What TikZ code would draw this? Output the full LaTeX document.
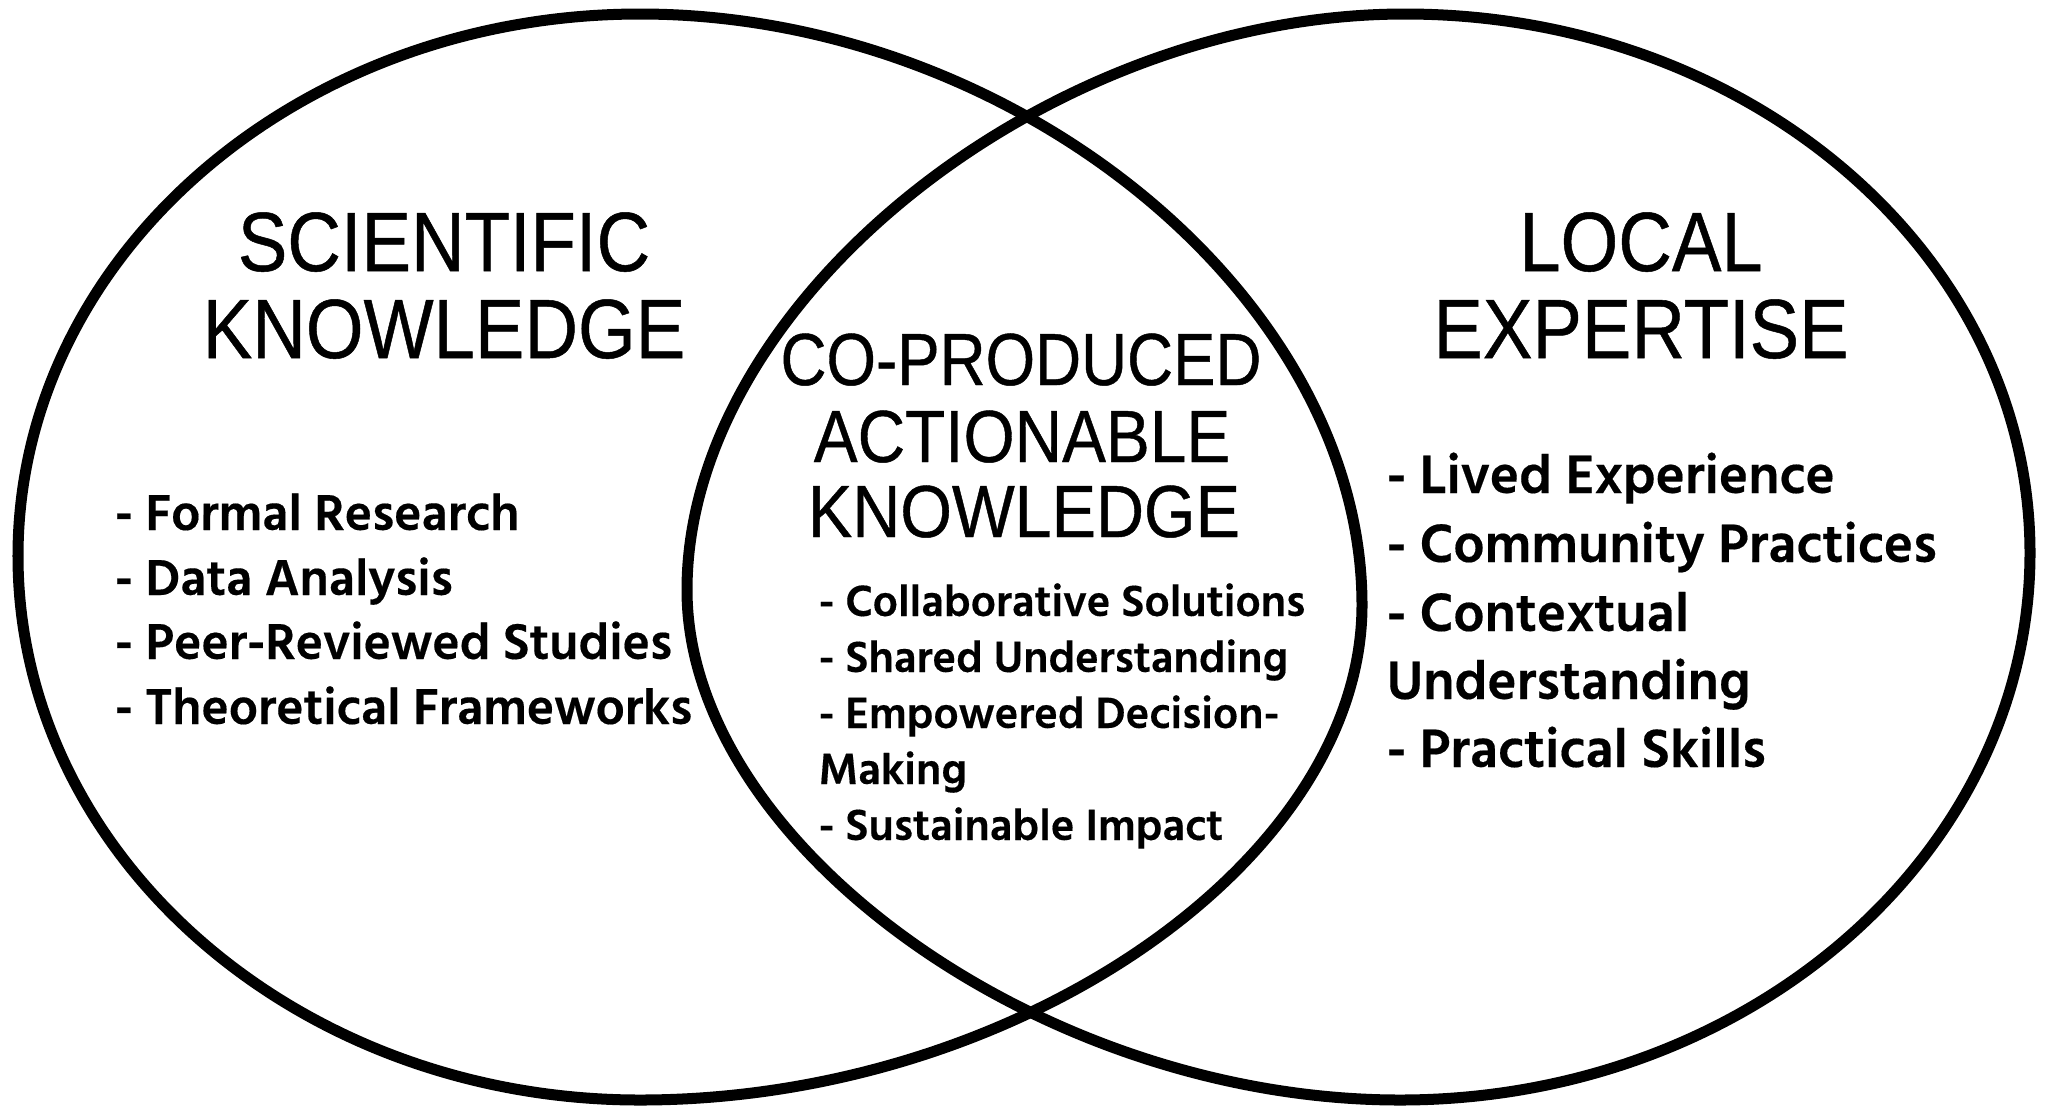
\documentclass[tikz,border=0pt]{standalone}
\usepackage{fontspec}
\usepackage{graphicx}
\newfontfamily\headfont[FakeBold=0.6]{Liberation Sans}
\newfontfamily\listfont[BoldFeatures={FakeBold=0.3}]{Hind Siliguri}
\newcommand\hx[2]{\scalebox{#1}[1]{#2}}
\begin{document}
\begin{tikzpicture}[x=0.01cm,y=-0.01cm,
  ring/.style={draw=black,line width=0.11cm},
  head/.style={font=\headfont\fontsize{23.9}{28}\selectfont,anchor=base,inner sep=0pt},
  mid/.style={font=\headfont\fontsize{21}{25}\selectfont,anchor=base,inner sep=0pt},
  litem/.style={font=\listfont\bfseries\fontsize{14.7}{17}\selectfont,anchor=base west,inner sep=0pt},
  citem/.style={font=\listfont\bfseries\fontsize{12.75}{15}\selectfont,anchor=base west,inner sep=0pt},
  ritem/.style={font=\listfont\bfseries\fontsize{15.75}{18}\selectfont,anchor=base west,inner sep=0pt}]
\fill[white] (0,0) rectangle (2048,1117);
\useasboundingbox (0,0) rectangle (2048,1117);
% left shape
\draw[ring] (18,556) .. controls (18,257) and (297,14) .. (640,14)
  .. controls (1015,14) and (1362,298) .. (1362,605)
  .. controls (1362,862) and (1015,1100) .. (640,1100)
  .. controls (297,1100) and (18,856) .. cycle;
% right shape
\draw[ring] (687,590) .. controls (687,302) and (1046,14) .. (1405,14)
  .. controls (1750,14) and (2030,255) .. (2030,553)
  .. controls (2030,855) and (1747,1100) .. (1400,1100)
  .. controls (1043,1100) and (687,845) .. cycle;
% headings
\node[head] (s1) at (444,271) {\hx{0.883}{SCIENTIFIC}};
\node[head] (s2) at (444,358) {\hx{0.883}{KNOWLEDGE}};
\node[head] (e1) at (1641,271) {\hx{0.883}{LOCAL}};
\node[head] (e2) at (1641,358) {\hx{0.883}{EXPERTISE}};
\node[mid] (c1) at (1021,385) {\hx{0.862}{CO-PRODUCED}};
\node[mid] (c2) at (1022,462) {\hx{0.89}{ACTIONABLE}};
\node[mid] (c3) at (1024,537) {\hx{0.90}{KNOWLEDGE}};
% left list
\node[litem] (l1) at (114,530) {- Formal Research};
\node[litem] (l2) at (114,595) {- Data Analysis};
\node[litem] (l3) at (114,659) {- Peer-Reviewed Studies};
\node[litem] (l4) at (114,724) {- Theoretical Frameworks};
% centre list
\node[citem] (m1) at (818,616) {- Collaborative Solutions};
\node[citem] (m2) at (818,672) {- Shared Understanding};
\node[citem] (m3) at (818,728) {- Empowered Decision-};
\node[citem] (m4) at (818,784) {Making};
\node[citem] (m5) at (818,840) {- Sustainable Impact};
% right list
\node[ritem] (r1) at (1386,493) {- Lived Experience};
\node[ritem] (r2) at (1386,562) {- Community Practices};
\node[ritem] (r3) at (1386,631) {- Contextual};
\node[ritem] (r4) at (1386,699) {Understanding};
\node[ritem] (r5) at (1386,767) {- Practical Skills};
\end{tikzpicture}
\end{document}
